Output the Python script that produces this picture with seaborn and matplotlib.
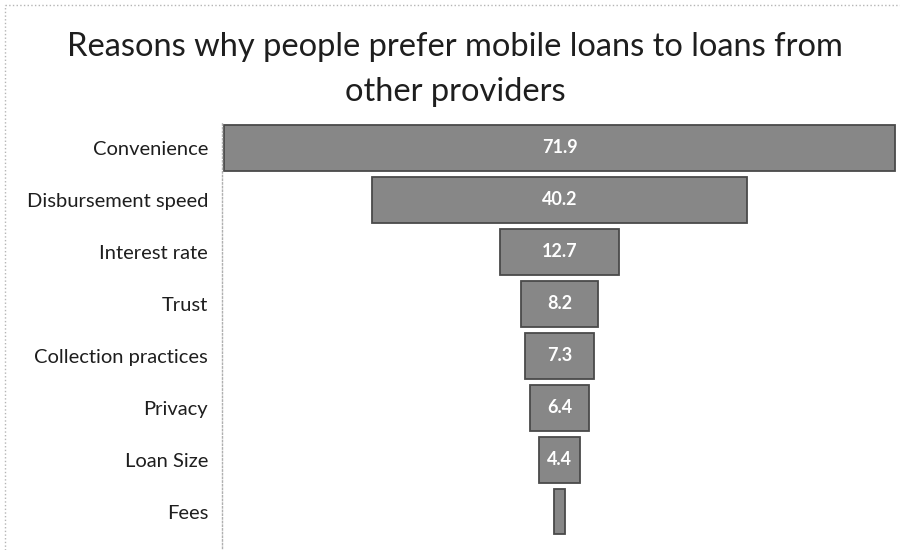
import matplotlib
matplotlib.use("Agg")
import matplotlib.pyplot as plt
from matplotlib.lines import Line2D
import pandas as pd
import seaborn as sns

# Survey shares (%) for each reason
reasons = ["Convenience", "Disbursement speed", "Interest rate", "Trust",
           "Collection practices", "Privacy", "Loan Size", "Fees"]
shares = [71.9, 40.2, 12.7, 8.2, 7.3, 6.4, 4.4, 1.1]
labels = ["71.9", "40.2", "12.7", "8.2", "7.3", "6.4", "4.4", ""]

title_lines = ["Reasons why people prefer mobile loans to loans from",
               "other providers"]

sns.set_theme(style="white")
plt.rcParams["font.family"] = ["Lato", "DejaVu Sans"]

df = pd.DataFrame({"reason": reasons, "share": shares})

fig = plt.figure(figsize=(9, 5.5), dpi=100)
W, H = 900, 550
ax = fig.add_axes([222 / W, 1 - 548 / H, (897 - 222) / W, (548 - 122) / H])

sns.barplot(data=df, x="share", y="reason", orient="h", ax=ax,
            color="#878787", saturation=1, width=0.88,
            edgecolor="#4a4a4a", linewidth=1.3)

# centre every bar on zero to form the funnel
for patch in ax.patches:
    w = patch.get_width()
    patch.set_x(-w / 2)

for i, (v, lab) in enumerate(zip(shares, labels)):
    if lab:
        ax.text(0, i, lab, ha="center", va="center", color="white",
                fontsize=13, fontweight="bold")

half = max(shares) / 2
ax.set_xlim(-half - 0.25, half + 0.25)
ax.set_ylim(7.7, -0.5)
ax.set_xlabel("")
ax.set_ylabel("")
ax.set_xticks([])
ax.tick_params(axis="y", length=0, pad=10, labelsize=14.5, labelcolor="#1e1e1e")

for side in ["top", "right", "bottom"]:
    ax.spines[side].set_visible(False)
ax.spines["left"].set_color("#b0b0b0")
ax.spines["left"].set_linestyle(":")
ax.spines["left"].set_linewidth(1.0)

fig.text(455 / W, 1 - 56 / H, title_lines[0], ha="center", va="baseline",
         fontsize=23.5, color="#1e1e1e")
fig.text(455 / W, 1 - 101 / H, title_lines[1], ha="center", va="baseline",
         fontsize=23.5, color="#1e1e1e")

# chart-area border
fig.add_artist(Line2D([5 / W, 1], [1 - 5 / H, 1 - 5 / H], color="#b5b5b5",
                      linestyle=":", linewidth=1.0, transform=fig.transFigure))
fig.add_artist(Line2D([5 / W, 5 / W], [0, 1 - 5 / H], color="#b5b5b5",
                      linestyle=":", linewidth=1.0, transform=fig.transFigure))

fig.savefig("out.png", dpi=100, facecolor="white")
